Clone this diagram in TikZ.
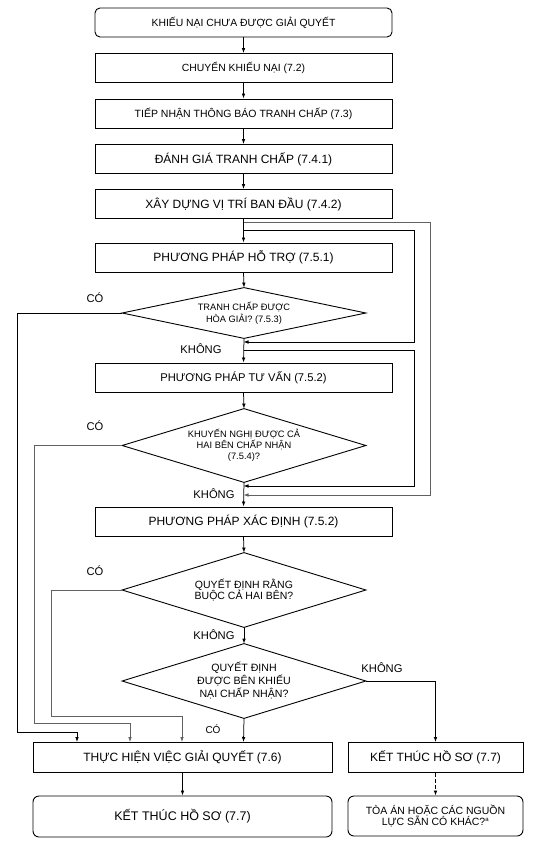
\documentclass[tikz,border=0pt]{standalone}
\usepackage{fontspec}
\setmainfont{Liberation Sans}
\usetikzlibrary{arrows.meta}
\begin{document}
\begin{tikzpicture}[x=1pt,y=-1pt,
  line width=0.75pt,
  arr/.style={-{Latex[length=5pt,width=3.6pt]}},
  box/.style={draw, line width=0.9pt, rectangle, minimum width=297pt, minimum height=29pt, inner sep=0pt, align=center},
  rbox/.style={box, rounded corners=5pt},
  sbox/.style={box, minimum width=299pt, minimum height=30pt},
  rsbox/.style={draw, line width=0.9pt, rounded corners=6pt, minimum width=175pt, inner sep=0pt, align=center},
  dtext/.style={rectangle, minimum width=243pt, inner sep=0pt, align=center},
  dia/.style={line width=0.9pt},
  lbl/.style={inner sep=0pt, font=\fontsize{11.2}{13}\selectfont},
  fb/.style={draw=black!62}
]
\useasboundingbox (0,0) rectangle (549,846);

% main column
\node[rbox, font=\fontsize{10.4}{12}\selectfont] (s) at (243.5,22.5) {KHIẾU NẠI CHƯA ĐƯỢC GIẢI QUYẾT};
\node[box, font=\fontsize{10.4}{12}\selectfont] (b2) at (243.5,68) {CHUYỂN KHIẾU NẠI (7.2)};
\node[box, font=\fontsize{10.5}{12}\selectfont] (b3) at (243.5,113.5) {TIẾP NHẬN THÔNG BÁO TRANH CHẤP (7.3)};
\node[box, font=\fontsize{12}{14}\selectfont] (b4) at (243.5,159) {ĐÁNH GIÁ TRANH CHẤP (7.4.1)};
\node[box, font=\fontsize{12}{14}\selectfont] (b5) at (243.5,204) {XÂY DỰNG VỊ TRÍ BAN ĐẦU (7.4.2)};
\node[box, font=\fontsize{12}{14}\selectfont] (b6) at (243.5,257.5) {PHƯƠNG PHÁP HỖ TRỢ (7.5.1)};
\node[dtext, minimum height=50pt, font=\fontsize{9.3}{11.6}\selectfont] (d1) at (244,313) {TRANH CHẤP ĐƯỢC\\HÒA GIẢI? (7.5.3)};
\node[box, font=\fontsize{11.2}{13}\selectfont] (b7) at (243.5,377.5) {PHƯƠNG PHÁP TƯ VẤN (7.5.2)};
\node[dtext, minimum height=73pt, font=\fontsize{9.3}{11.2}\selectfont] (d2) at (244,445.5) {KHUYẾN NGHỊ ĐƯỢC CẢ\\HAI BÊN CHẤP NHẬN\\(7.5.4)?};
\node[box, font=\fontsize{12}{14}\selectfont] (b8) at (243.5,521.5) {PHƯƠNG PHÁP XÁC ĐỊNH (7.5.2)};
\node[dtext, minimum height=74pt, font=\fontsize{10.5}{11.8}\selectfont] (d3) at (244,590) {QUYẾT ĐỊNH RẰNG\\BUỘC CẢ HAI BÊN?};
\node[dtext, minimum height=74pt, font=\fontsize{10.6}{13}\selectfont] (d4) at (244,681) {QUYẾT ĐỊNH\\ĐƯỢC BÊN KHIẾU\\NẠI CHẤP NHẬN?};
\node[sbox, font=\fontsize{12}{14}\selectfont] (b9) at (182.5,757) {THỰC HIỆN VIỆC GIẢI QUYẾT (7.6)};
\node[box, minimum width=175pt, minimum height=30pt, font=\fontsize{12}{14}\selectfont] (b10) at (435.5,757.5) {KẾT THÚC HỒ SƠ (7.7)};
\node[box, rounded corners=6pt, minimum width=299pt, minimum height=41pt, font=\fontsize{12.5}{14}\selectfont] (e1) at (182.5,816.5) {KẾT THÚC HỒ SƠ (7.7)};
\node[rsbox, minimum height=40pt, font=\fontsize{10.5}{11.5}\selectfont] (e2) at (435.5,816) {TÒA ÁN HOẶC CÁC NGUỒN\\LỰC SẴN CÓ KHÁC?\textsuperscript{\fontsize{6}{6}\selectfont a}};

% diamonds
\foreach \d in {d1,d2,d3,d4}{
  \draw[dia] (\d.west) -- (\d.north) -- (\d.east) -- (\d.south) -- cycle;
}

% junction coordinates on main line
\coordinate (o1) at (243.5,222);
\coordinate (o2) at (243.5,230);
\coordinate (t2) at (243.5,342);
\coordinate (o3) at (243.5,350);
\coordinate (t3) at (243.5,486);
\coordinate (t1) at (243.5,495);

% main arrows
\draw[arr] (s.south) -- (b2.north);
\draw[arr] (b2.south) -- (b3.north);
\draw[arr] (b3.south) -- (b4.north);
\draw[arr] (b4.south) -- (b5.north);
\draw[arr] (b5.south) -- (b6.north);
\draw[arr] (b6.south) -- (d1.north);
\draw[arr] (d1.south) -- (b7.north);
\draw[arr] (b7.south) -- (d2.north);
\draw[arr] (d2.south) -- (b8.north);
\draw[arr] (b8.south) -- (d3.north);
\draw[arr] (d3.south) -- (d4.north);
\draw[arr] (d4.south) -- (243.5,742);
\draw[arr] (b9.south) -- (e1.north);
\draw[arr, dashed, dash pattern=on 4pt off 2pt] (b10.south) -- (e2.north);
\draw[arr] (d4.east) -| (b10.north);

% bypass loops on the right
\draw[arr, fb] (o1) -- (430,222) -- (430,495) -- (t1);
\draw[arr] (o2) -- (414,230) -- (414,342) -- (t2);
\draw[arr] (o3) -- (414,350) -- (414,486) -- (t3);

% "CÓ" branches to implementation
\draw[arr] (d1.west) -- (17,313) |- (77,732) -- (77,742);
\draw[arr, fb] (d2.west) -- (34,445.5) |- (130,723.5) -- (130,742);
\draw[arr, fb] (d3.west) -- (51,590) |- (182,716.5) -- (182,742);

% labels
\node[lbl] (c1) at (95,298) {CÓ};
\node[lbl] (c2) at (95,426) {CÓ};
\node[lbl] (c3) at (95,571) {CÓ};
\node[lbl, font=\fontsize{10}{12}\selectfont] (c4) at (213,729) {CÓ};
\node[lbl] (k1) at (201,349) {KHÔNG};
\node[lbl] (k2) at (214,494) {KHÔNG};
\node[lbl] (k3) at (214,635) {KHÔNG};
\node[lbl] (k4) at (382,668) {KHÔNG};
\end{tikzpicture}
\end{document}
